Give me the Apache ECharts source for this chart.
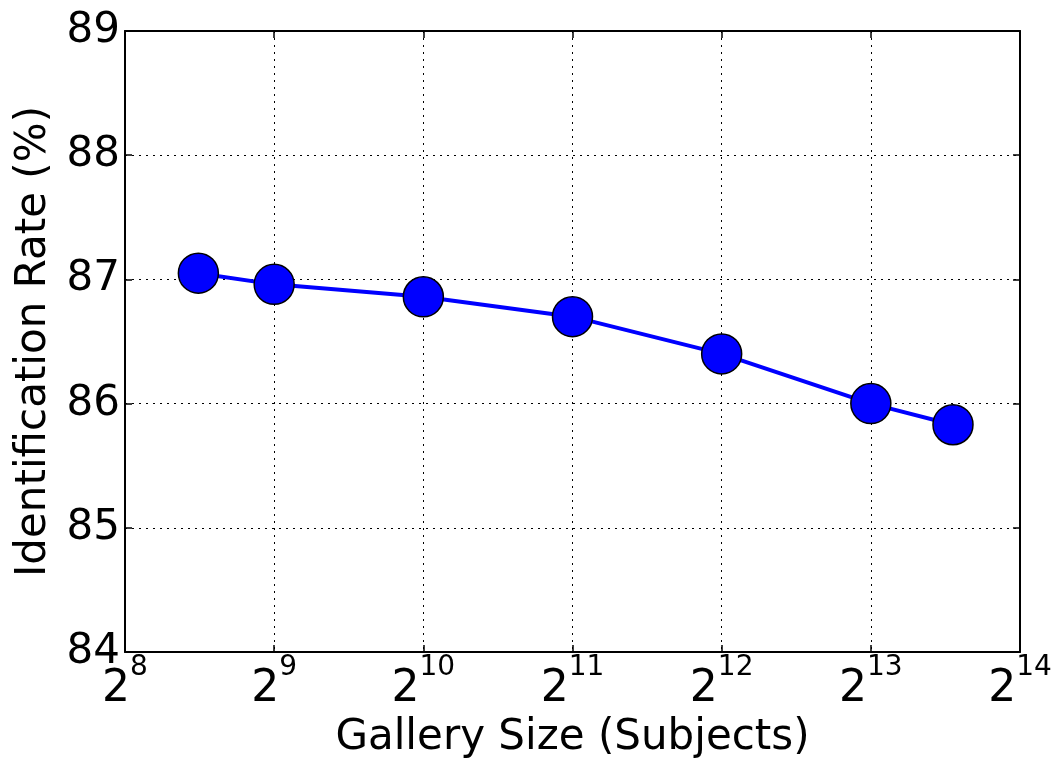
<!DOCTYPE html>
<html>
<head>
<meta charset="utf-8">
<script src="https://cdn.jsdelivr.net/npm/echarts@6/dist/echarts.min.js"></script>
<style>
html,body{margin:0;padding:0;background:#fff;}
#chart{width:1055px;height:761px;}
</style>
</head>
<body>
<div id="chart"></div>
<script>
const gallerySizes = [360, 512, 1024, 2048, 4096, 8192, 12000];
const identificationRates = [87.05, 86.96, 86.86, 86.70, 86.40, 86.00, 85.83];
const xTitle = 'Gallery Size (Subjects)';
const yTitle = 'Identification Rate (%)';
const yTicks = [84, 85, 86, 87, 88, 89];
const xExponents = [8, 9, 10, 11, 12, 13, 14];

const FONT = 'DejaVu Sans';
const chart = echarts.init(document.getElementById('chart'));
const seriesData = gallerySizes.map((x, i) => [x, identificationRates[i]]);

const option = {
  animation: false,
  backgroundColor: '#fff',
  grid: { left: 125, right: 35, top: 31, bottom: 109, containLabel: false, outerBoundsMode: 'none' },
  xAxis: [{
    type: 'log', logBase: 2,
    min: Math.pow(2, xExponents[0]), max: Math.pow(2, xExponents[xExponents.length - 1]),
    position: 'bottom',
    name: xTitle, nameLocation: 'middle', nameGap: 58,
    nameTextStyle: { fontFamily: FONT, fontSize: 42, color: '#000' },
    axisLine: { show: true, lineStyle: { color: '#000', width: 2 } },
    axisTick: { show: true, inside: true, length: 7, lineStyle: { color: '#000', width: 1.5 } },
    axisLabel: {
      margin: 2,
      formatter: v => '{b|2}{s|' + Math.round(Math.log2(v)) + '}',
      rich: {
        b: { fontFamily: FONT, fontSize: 44, color: '#000', lineHeight: 58, verticalAlign: 'bottom' },
        s: { fontFamily: FONT, fontSize: 28, color: '#000', lineHeight: 28, verticalAlign: 'top' }
      }
    },
    splitLine: { show: true, lineStyle: { color: '#000', type: [2, 5], width: 1 } }
  }, {
    type: 'log', logBase: 2,
    min: Math.pow(2, xExponents[0]), max: Math.pow(2, xExponents[xExponents.length - 1]),
    position: 'top',
    axisLine: { show: true, lineStyle: { color: '#000', width: 2 } },
    axisTick: { show: true, inside: true, length: 7, lineStyle: { color: '#000', width: 1.5 } },
    axisLabel: { show: false },
    splitLine: { show: false }
  }],
  yAxis: [{
    type: 'value', min: yTicks[0], max: yTicks[yTicks.length - 1], interval: 1,
    position: 'left',
    name: yTitle, nameLocation: 'middle', nameGap: 70, nameRotate: 90,
    nameTextStyle: { fontFamily: FONT, fontSize: 42, color: '#000' },
    axisLine: { show: true, lineStyle: { color: '#000', width: 2 } },
    axisTick: { show: true, inside: true, length: 7, lineStyle: { color: '#000', width: 1.5 } },
    axisLabel: { fontFamily: FONT, fontSize: 42, color: '#000', margin: 5 },
    splitLine: { show: true, lineStyle: { color: '#000', type: [2, 5], width: 1 } }
  }, {
    type: 'value', min: yTicks[0], max: yTicks[yTicks.length - 1], interval: 1,
    position: 'right',
    axisLine: { show: true, lineStyle: { color: '#000', width: 2 } },
    axisTick: { show: true, inside: true, length: 7, lineStyle: { color: '#000', width: 1.5 } },
    axisLabel: { show: false },
    splitLine: { show: false }
  }],
  series: [{
    type: 'line',
    xAxisIndex: 0, yAxisIndex: 0,
    data: seriesData,
    lineStyle: { color: '#0000ff', width: 4 },
    symbol: 'circle', symbolSize: 40,
    itemStyle: { color: '#0000ff', borderColor: '#000', borderWidth: 1.5 },
    z: 5
  }]
};
chart.setOption(option);
</script>
</body>
</html>
